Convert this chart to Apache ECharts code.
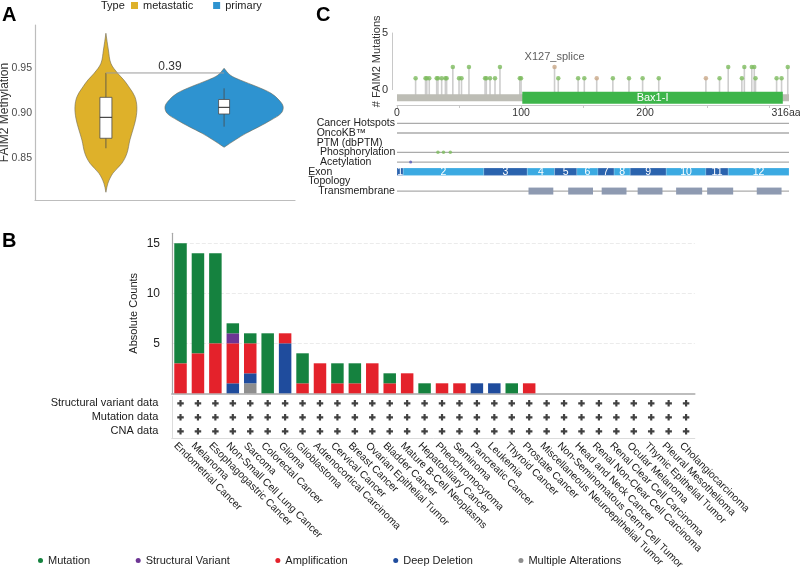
<!DOCTYPE html>
<html><head><meta charset="utf-8">
<script src="https://cdn.jsdelivr.net/npm/echarts@6/dist/echarts.min.js"></script>
<style>html,body{margin:0;padding:0;background:#fff}#c{width:800px;height:570px}</style>
</head><body><div id="c"></div>
<script>
// ---------- Panel A : violin data ----------
const violinGroups = ['metastatic', 'primary'];
// density profiles: [methylation value, half-width (x-axis units)]
const metastaticProfile = [[0.9886,0],[0.970,0.021],[0.9552,0.042],[0.9441,0.10],[0.9367,0.152],[0.9274,0.203],[0.9181,0.245],[0.907,0.262],[0.8941,0.254],[0.8811,0.228],[0.870,0.203],[0.8552,0.178],[0.8441,0.135],[0.833,0.059],[0.8219,0.017],[0.8119,0]];
const primaryProfile = [[0.9497,0],[0.9422,0.051],[0.9367,0.135],[0.9292,0.279],[0.9219,0.398],[0.9144,0.465],[0.907,0.5],[0.8996,0.482],[0.8922,0.398],[0.8848,0.296],[0.8774,0.186],[0.870,0.093],[0.8619,0]];
// box stats: [lower whisker, Q1, median, Q3, upper whisker]
const metastaticBox = [0.8608, 0.8719, 0.8952, 0.9174, 0.9445];
const primaryBox = [0.8848, 0.8989, 0.9063, 0.915, 0.9274];
const comparisonP = '0.39';
const comparisonY = 0.9445;
const methylTicks = [0.85, 0.90, 0.95];

// ---------- Panel C : lollipop / protein tracks ----------
const proteinLength = 316;
const mutPositions = [15,23,24,26,32,33,36,39,40,45,50,52,58,71,72,75,79,83,99,100,127,130,146,151,161,174,187,198,211,249,260,267,278,280,286,288,289,306,310,315];
const mutCounts    = [1,1,1,1,1,1,1,1,1,2,1,1,2,1,1,1,1,2,1,1,2,1,1,1,1,1,1,1,1,1,1,2,1,2,2,2,1,1,1,2];
const mutTypes     = ['m','m','m','m','m','m','m','m','m','m','m','m','m','m','m','m','m','m','m','m','s','m','m','m','s','m','m','m','m','s','m','m','m','m','m','m','m','m','m','m'];
const labelledMutationPos = 127;
const labelledMutationText = 'X127_splice';
const domainNames = ['Bax1-I'];
const domainStarts = [101];
const domainEnds = [311];
const protTicks = [0, 50, 100, 150, 200, 250, 300, 316];
const protLabels = [0, 100, 200, 316];
const trackNames = ['Cancer Hotspots','OncoKB™','PTM (dbPTM)','Phosphorylation','Acetylation','Exon','Topology','Transmembrane'];
const trackLineRows = ['Cancer Hotspots','OncoKB™','Phosphorylation','Acetylation','Transmembrane'];
const phosphoPositions = [33, 37.5, 43];
const acetylPositions = [11];
const exonStarts = [0,5,70,105,127,145,162,175,188,217,249,267];
const exonEnds   = [5,70,105,127,145,162,175,188,217,249,267,316];
const tmStarts = [106,138,165,194,225,250,290];
const tmEnds   = [126,158,185,214,246,271,310];

// ---------- Panel B : cancer type summary ----------
const cancerTypes = ['Endometrial Cancer','Melanoma','Esophagogastric Cancer','Non-Small Cell Lung Cancer','Sarcoma','Colorectal Cancer','Glioma','Glioblastoma','Adrenocortical Carcinoma','Cervical Cancer','Breast Cancer','Ovarian Epithelial Tumor','Bladder Cancer','Mature B-Cell Neoplasms','Hepatobiliary Cancer','Pheochromocytoma','Seminoma','Pancreatic Cancer','Leukemia','Thyroid Cancer','Prostate Cancer','Miscellaneous Neuroepithelial Tumor','Non-Seminomatous Germ Cell Tumor','Head and Neck Cancer','Renal Non-Clear Cell Carcinoma','Renal Clear Cell Carcinoma','Ocular Melanoma','Thymic Epithelial Tumor','Pleural Mesothelioma','Cholangiocarcinoma'];
const mutationCounts = [12,10,9,1,1,6,0,3,0,2,2,0,1,0,1,0,0,0,0,1,0,0,0,0,0,0,0,0,0,0];
const svCounts       = [0,0,0,1,0,0,0,0,0,0,0,0,0,0,0,0,0,0,0,0,0,0,0,0,0,0,0,0,0,0];
const ampCounts      = [3,4,5,4,3,0,1,1,3,1,1,3,1,2,0,1,1,0,0,0,1,0,0,0,0,0,0,0,0,0];
const deepDelCounts  = [0,0,0,1,1,0,5,0,0,0,0,0,0,0,0,0,0,1,1,0,0,0,0,0,0,0,0,0,0,0];
const multipleCounts = [0,0,0,0,1,0,0,0,0,0,0,0,0,0,0,0,0,0,0,0,0,0,0,0,0,0,0,0,0,0];
const alterationTypes = ['Mutation','Structural Variant','Amplification','Deep Deletion','Multiple Alterations'];
const profiledRows = ['Structural variant data','Mutation data','CNA data'];
const svProfiled  = [1,1,1,1,1,1,1,1,1,1,1,1,1,1,1,1,1,1,1,1,1,1,1,1,1,1,1,1,1,1];
const mutProfiled = [1,1,1,1,1,1,1,1,1,1,1,1,1,1,1,1,1,1,1,1,1,1,1,1,1,1,1,1,1,1];
const cnaProfiled = [1,1,1,1,1,1,1,1,1,1,1,1,1,1,1,1,1,1,1,1,1,1,1,1,1,1,1,1,1,1];

// ---------- styles ----------
const FONT = "'Liberation Sans', Arial, Helvetica, sans-serif";
const gold = '#DEB12A', blue = '#2E93D0';
const altColors = {'Mutation':'#15823F','Structural Variant':'#6D3594','Amplification':'#E4222B','Deep Deletion':'#1F4C9D','Multiple Alterations':'#8E8E8E'};

function violinRender(profile, box, color, boxHalf) {
  return function (params, api) {
    const cx = api.value(0);
    const right = profile.map(p => api.coord([cx + p[1], p[0]]));
    const left = profile.slice().reverse().map(p => api.coord([cx - p[1], p[0]]));
    const med = api.coord([cx, box[2]]);
    const q1 = api.coord([cx, box[1]]), q3 = api.coord([cx, box[3]]);
    const wl = api.coord([cx, box[0]]), wh = api.coord([cx, box[4]]);
    const x0 = med[0];
    return {type: 'group', children: [
      {type: 'polygon', shape: {points: right.concat(left), smooth: 0.35}, style: {fill: color, stroke: '#6f6a55', lineWidth: 0.6}},
      {type: 'line', shape: {x1: x0, y1: wl[1], x2: x0, y2: wh[1]}, style: {stroke: '#4a4a4a', lineWidth: 0.8}},
      {type: 'rect', shape: {x: x0 - boxHalf, y: q3[1], width: 2 * boxHalf, height: q1[1] - q3[1]}, style: {fill: '#fff', stroke: '#4a4a4a', lineWidth: 0.8}},
      {type: 'line', shape: {x1: x0 - boxHalf, y1: med[1], x2: x0 + boxHalf, y2: med[1]}, style: {stroke: '#222', lineWidth: 1}}
    ]};
  };
}

const barSeriesOrder = [
  ['Multiple Alterations', multipleCounts],
  ['Deep Deletion', deepDelCounts],
  ['Amplification', ampCounts],
  ['Structural Variant', svCounts],
  ['Mutation', mutationCounts]
];

const plusSymbol = 'path://M2,0H4V2H6V4H4V6H2V4H0V2H2Z';
const profiledData = [];
[svProfiled, mutProfiled, cnaProfiled].forEach((arr, r) => arr.forEach((v, i) => { if (v) profiledData.push([i, r]); }));

const indentStyle = {'Cancer Hotspots':'a','OncoKB™':'a','PTM (dbPTM)':'a','Phosphorylation':'b','Acetylation':'b','Exon':'c','Topology':'c','Transmembrane':'d'};

const option = {
  animation: false,
  textStyle: {fontFamily: FONT},
  title: [
    {text: 'A', left: 2, top: 5, padding: 0, textStyle: {fontSize: 20, fontWeight: 'bold', color: '#000', fontFamily: FONT}},
    {text: 'B', left: 2, top: 231, padding: 0, textStyle: {fontSize: 20, fontWeight: 'bold', color: '#000', fontFamily: FONT}},
    {text: 'C', left: 316, top: 5, padding: 0, textStyle: {fontSize: 20, fontWeight: 'bold', color: '#000', fontFamily: FONT}},
    {text: 'Type', left: 101, top: 0, padding: 0, textStyle: {fontSize: 11, fontWeight: 'normal', color: '#222', fontFamily: FONT}}
  ],
  legend: [
    {data: violinGroups, left: 131, top: 0, padding: 0, icon: 'rect', itemWidth: 7, itemHeight: 7, itemGap: 20,
     textStyle: {fontSize: 11, color: '#222', fontFamily: FONT}},
    {data: alterationTypes, left: 38, top: 555, padding: 0, icon: 'circle', itemWidth: 5, itemHeight: 5, itemGap: 45.5,
     textStyle: {fontSize: 11, color: '#222', fontFamily: FONT}}
  ],
  grid: [
    {left: 35, top: 25, width: 260, height: 175, outerBoundsMode: 'none'},
    {left: 397, top: 33, width: 392, height: 56.6, outerBoundsMode: 'none'},
    {left: 397, top: 118.5, width: 392, height: 77.4, outerBoundsMode: 'none'},
    {left: 171.8, top: 233.3, width: 523, height: 160, outerBoundsMode: 'none'},
    {left: 171.8, top: 396.3, width: 523, height: 42, outerBoundsMode: 'none'}
  ],
  xAxis: [
    {gridIndex: 0, type: 'value', min: 0.4, max: 2.6, axisLabel: {show: false}, axisTick: {show: false}, splitLine: {show: false},
     axisLine: {onZero: false, lineStyle: {color: '#BDBDBD', width: 1.2}}},
    {gridIndex: 1, type: 'value', min: 0, max: proteinLength, offset: 15.4, splitLine: {show: false},
     axisLine: {onZero: false, lineStyle: {color: '#C8C8C8', width: 1}},
     axisTick: {customValues: protTicks, length: 3, lineStyle: {color: '#C8C8C8'}},
     axisLabel: {customValues: protLabels, margin: 3, fontSize: 10.5, color: '#333', fontFamily: FONT,
                 formatter: v => (v === proteinLength ? '{e|' + v + 'aa}' : String(v)),
                 rich: {e: {padding: [0, 6, 0, 0], fontSize: 10.5, fontFamily: FONT, color: '#333'}}}},
    {gridIndex: 2, type: 'value', min: 0, max: proteinLength, show: false},
    {gridIndex: 3, type: 'category', data: cancerTypes, axisLabel: {show: false}, axisTick: {show: false},
     axisLine: {lineStyle: {color: '#A8A8A8', width: 1.5}}},
    {gridIndex: 4, type: 'category', data: cancerTypes, axisTick: {show: false},
     axisLine: {lineStyle: {color: '#DCDCDC', width: 1}},
     axisLabel: {rotate: -45, margin: 1, verticalAlign: 'top', lineHeight: 14, fontSize: 10.3, color: '#1a1a1a', fontFamily: FONT, interval: 0}}
  ],
  yAxis: [
    {gridIndex: 0, type: 'value', min: 0.8033, max: 0.9978, name: 'FAIM2 Methylation', nameLocation: 'middle', nameGap: 24, nameMoveOverlap: false,
     nameTextStyle: {fontSize: 12, color: '#333', fontFamily: FONT},
     axisLine: {show: true, onZero: false, lineStyle: {color: '#BDBDBD', width: 1.2}}, axisTick: {show: false}, splitLine: {show: false},
     axisLabel: {customValues: methylTicks, margin: 3, fontSize: 10.5, color: '#4D4D4D', fontFamily: FONT, formatter: v => v.toFixed(2)}},
    {gridIndex: 1, type: 'value', min: 0, max: 5, interval: 5, offset: 5, name: '# FAIM2 Mutations', nameLocation: 'middle', nameGap: 9.5, nameMoveOverlap: false,
     nameTextStyle: {fontSize: 11, color: '#333', fontFamily: FONT},
     axisLine: {show: true, onZero: false, lineStyle: {color: '#C8C8C8'}}, axisTick: {show: false}, splitLine: {show: false},
     axisLabel: {margin: 4, fontSize: 11, color: '#333', fontFamily: FONT}},
    {gridIndex: 2, type: 'category', data: trackNames, inverse: true, axisLine: {show: false}, axisTick: {show: false}, splitLine: {show: false},
     axisLabel: {interval: 0, align: 'left', margin: 88.7, fontSize: 10.5, color: '#222', fontFamily: FONT,
       formatter: v => '{' + indentStyle[v] + '|' + v + '}',
       rich: {a: {padding: [0,0,0,8.4], fontSize: 10.5, fontFamily: FONT, color: '#222'},
              b: {padding: [0,0,0,11.7], fontSize: 10.5, fontFamily: FONT, color: '#222'},
              c: {fontSize: 10.5, fontFamily: FONT, color: '#222'},
              d: {padding: [0,0,0,10], fontSize: 10.5, fontFamily: FONT, color: '#222'}}}},
    {gridIndex: 3, type: 'value', min: 0, max: 16, interval: 5, name: 'Absolute Counts', nameLocation: 'middle', nameGap: 32.8, nameMoveOverlap: false,
     nameTextStyle: {fontSize: 11, color: '#222', fontFamily: FONT},
     axisLine: {show: true, lineStyle: {color: '#A8A8A8', width: 1.2}}, axisTick: {show: false},
     splitLine: {show: true, showMaxLine: false, showMinLine: false, lineStyle: {color: '#EBEBEB', type: 'dashed'}},
     axisLabel: {showMinLabel: false, showMaxLabel: false, margin: 11.8, fontSize: 12, color: '#222', fontFamily: FONT}},
    {gridIndex: 4, type: 'category', data: profiledRows, inverse: true, axisTick: {show: false},
     axisLine: {show: true, lineStyle: {color: '#DCDCDC'}},
     axisLabel: {interval: 0, margin: 13.5, fontSize: 11, color: '#1a1a1a', fontFamily: FONT}}
  ],
  series: []
};

// Panel A violins
option.series.push({name: 'metastatic', type: 'custom', xAxisIndex: 0, yAxisIndex: 0, itemStyle: {color: gold},
  data: [[1, metastaticBox[2]]], renderItem: violinRender(metastaticProfile, metastaticBox, gold, 6)});
option.series.push({name: 'primary', type: 'custom', xAxisIndex: 0, yAxisIndex: 0, itemStyle: {color: blue},
  data: [[2, primaryBox[2]]], renderItem: violinRender(primaryProfile, primaryBox, blue, 5.5)});
option.series.push({name: 'comparison', type: 'custom', xAxisIndex: 0, yAxisIndex: 0, z: 5,
  data: [[1, 2, comparisonY]],
  renderItem: (p, api) => {
    const a = api.coord([api.value(0), api.value(2)]), b = api.coord([api.value(1), api.value(2)]);
    return {type: 'group', children: [
      {type: 'line', shape: {x1: a[0], y1: a[1], x2: b[0], y2: b[1]}, style: {stroke: '#9a9a9a', lineWidth: 1}},
      {type: 'text', style: {text: comparisonP, x: (a[0] + b[0]) / 2 + 5, y: a[1], textAlign: 'center', textVerticalAlign: 'bottom',
        fontSize: 12, fontFamily: FONT, fill: '#333'}}
    ]};
  }});

// Panel C lollipop stems
option.series.push({name: 'stems', type: 'custom', xAxisIndex: 1, yAxisIndex: 1, clip: false, z: 2,
  data: mutPositions.map((p, i) => [p, mutCounts[i]]),
  renderItem: (pr, api) => {
    const top = api.coord([api.value(0), api.value(1)]), base = api.coord([api.value(0), 0]);
    return {type: 'line', shape: {x1: top[0], y1: top[1], x2: base[0], y2: base[1] + 6}, style: {stroke: '#CDCDCD', lineWidth: 1.6}};
  }});
// backbone + domain
option.series.push({name: 'backbone', type: 'custom', xAxisIndex: 1, yAxisIndex: 1, clip: false, z: 4,
  data: [[0, proteinLength]],
  renderItem: (pr, api) => {
    const a = api.coord([api.value(0), -0.72]), b = api.coord([api.value(1), -0.72]);
    return {type: 'rect', shape: {x: a[0], y: a[1] - 3.5, width: b[0] - a[0], height: 7}, style: {fill: '#BDBDB5'}};
  }});
option.series.push({name: 'domains', type: 'custom', xAxisIndex: 1, yAxisIndex: 1, clip: false, z: 5,
  data: domainStarts.map((s, i) => [s, domainEnds[i], domainNames[i]]),
  renderItem: (pr, api) => {
    const a = api.coord([api.value(0), -0.72]), b = api.coord([api.value(1), -0.72]);
    return {type: 'group', children: [
      {type: 'rect', shape: {x: a[0], y: a[1] - 6, width: b[0] - a[0], height: 12}, style: {fill: '#3DB54A'}},
      {type: 'text', style: {text: domainNames[pr.dataIndex], x: (a[0] + b[0]) / 2, y: a[1], textAlign: 'center', textVerticalAlign: 'middle',
        fontSize: 11, fontFamily: FONT, fill: '#fff'}}
    ]};
  }});
option.series.push({name: 'mutHeads', type: 'scatter', xAxisIndex: 1, yAxisIndex: 1, z: 6, symbolSize: 4.5,
  data: mutPositions.map((p, i) => {
    const item = {value: [p, mutCounts[i]], itemStyle: {color: mutTypes[i] === 's' ? '#C9A887' : '#7DBB5E'}};
    if (p === labelledMutationPos) item.label = {show: true, position: 'top', distance: 2, formatter: labelledMutationText,
      fontSize: 11, color: '#333', fontFamily: FONT};
    return item;
  })});

// Panel C tracks
option.series.push({name: 'trackLines', type: 'custom', xAxisIndex: 2, yAxisIndex: 2, z: 1,
  data: trackLineRows.map(r => [0, proteinLength, trackNames.indexOf(r)]),
  renderItem: (pr, api) => {
    const a = api.coord([api.value(0), api.value(2)]), b = api.coord([api.value(1), api.value(2)]);
    return {type: 'line', shape: {x1: a[0], y1: a[1], x2: b[0], y2: b[1]}, style: {stroke: '#ABABAB', lineWidth: 1.3}};
  }});
option.series.push({name: 'exons', type: 'custom', xAxisIndex: 2, yAxisIndex: 2, z: 3,
  data: exonStarts.map((s, i) => [s, exonEnds[i], trackNames.indexOf('Exon'), i + 1]),
  renderItem: (pr, api) => {
    const a = api.coord([api.value(0), api.value(2)]), b = api.coord([api.value(1), api.value(2)]);
    const h = api.size([0, 1])[1] * 0.76;
    const dark = (api.value(3) % 2) === 1;
    return {type: 'group', children: [
      {type: 'rect', shape: {x: a[0], y: a[1] - h / 2, width: b[0] - a[0], height: h},
       style: {fill: dark ? '#2A63AE' : '#3BAAE2', stroke: 'rgba(255,255,255,0.35)', lineWidth: 0.5}},
      {type: 'text', style: {text: String(api.value(3)), x: (a[0] + b[0]) / 2, y: a[1], textAlign: 'center', textVerticalAlign: 'middle',
        fontSize: 10.5, fontFamily: FONT, fill: '#fff'}}
    ]};
  }});
option.series.push({name: 'transmembrane', type: 'custom', xAxisIndex: 2, yAxisIndex: 2, z: 3,
  data: tmStarts.map((s, i) => [s, tmEnds[i], trackNames.indexOf('Transmembrane')]),
  renderItem: (pr, api) => {
    const a = api.coord([api.value(0), api.value(2)]), b = api.coord([api.value(1), api.value(2)]);
    const h = api.size([0, 1])[1] * 0.72;
    return {type: 'rect', shape: {x: a[0], y: a[1] - h / 2, width: b[0] - a[0], height: h}, style: {fill: '#8E9AB1'}};
  }});
option.series.push({name: 'phospho', type: 'scatter', xAxisIndex: 2, yAxisIndex: 2, z: 4, symbolSize: 3.5,
  itemStyle: {color: '#7DBB5E'}, data: phosphoPositions.map(p => [p, trackNames.indexOf('Phosphorylation')])});
option.series.push({name: 'acetyl', type: 'scatter', xAxisIndex: 2, yAxisIndex: 2, z: 4, symbolSize: 3,
  itemStyle: {color: '#5559B8'}, data: acetylPositions.map(p => [p, trackNames.indexOf('Acetylation')])});

// Panel B stacked bars
barSeriesOrder.forEach(([name, arr]) => {
  option.series.push({name: name, type: 'bar', stack: 'total', xAxisIndex: 3, yAxisIndex: 3, barWidth: 12.5,
    itemStyle: {color: altColors[name]}, data: arr});
});
// profiled table
option.series.push({name: 'profiled', type: 'scatter', xAxisIndex: 4, yAxisIndex: 4, symbol: plusSymbol, symbolSize: 6.5,
  itemStyle: {color: '#111'}, data: profiledData});

const chart = echarts.init(document.getElementById('c'));
chart.setOption(option);
</script>
</body></html>
